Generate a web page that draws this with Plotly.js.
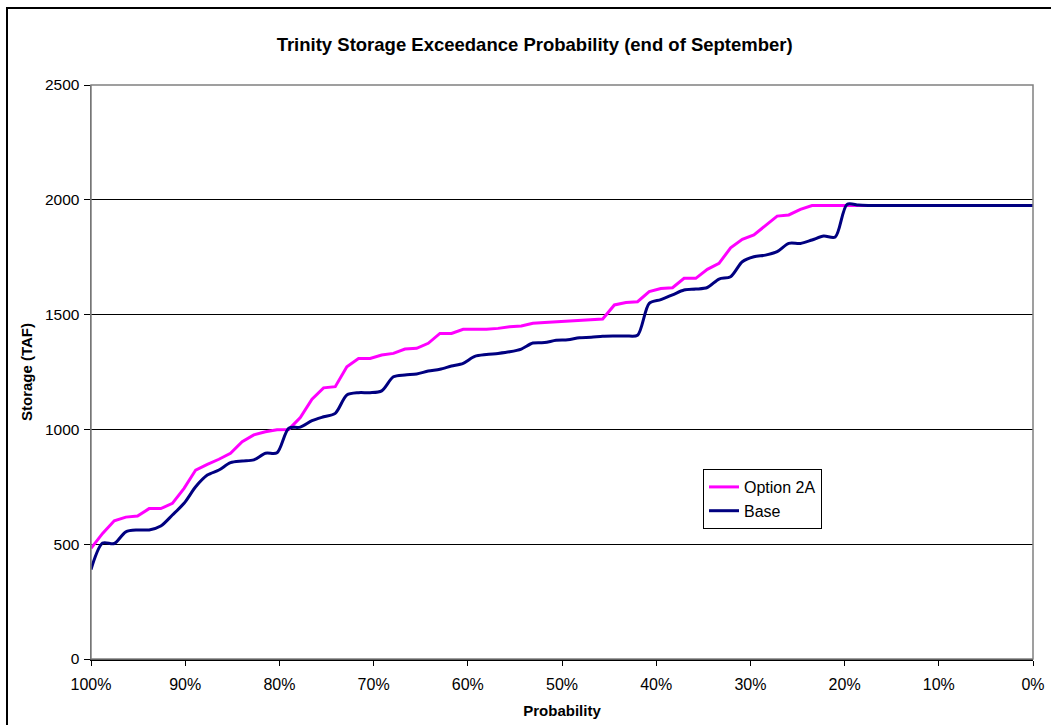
<!DOCTYPE html>
<html>
<head>
<meta charset="utf-8">
<script src="https://cdn.plot.ly/plotly-3.0.1.min.js"></script>
<style>
  html, body { margin: 0; padding: 0; background: #fff; }
  #wrap { position: relative; width: 1051px; height: 725px; overflow: hidden; }
  #chart { position: absolute; left: 0; top: 0; width: 1051px; height: 725px; }
  #frame { position: absolute; left: 6px; top: 7px; width: 1060px; height: 740px;
           border: 2px solid #000; pointer-events: none; }
</style>
</head>
<body>
<div id="wrap">
  <div id="chart"></div>
  <div id="frame"></div>
</div>
<script>
// Exceedance probability (%), 82 ranked years
const probability = [100, 98.77, 97.53, 96.30, 95.06, 93.83, 92.59, 91.36, 90.12, 88.89,
  87.65, 86.42, 85.19, 83.95, 82.72, 81.48, 80.25, 79.01, 77.78, 76.54,
  75.31, 74.07, 72.84, 71.60, 70.37, 69.14, 67.90, 66.67, 65.43, 64.20,
  62.96, 61.73, 60.49, 59.26, 58.02, 56.79, 55.56, 54.32, 53.09, 51.85,
  50.62, 49.38, 48.15, 46.91, 45.68, 44.44, 43.21, 41.98, 40.74, 39.51,
  38.27, 37.04, 35.80, 34.57, 33.33, 32.10, 30.86, 29.63, 28.40, 27.16,
  25.93, 24.69, 23.46, 22.22, 20.99, 19.75, 18.52, 17.28, 16.05, 14.81,
  13.58, 12.35, 11.11, 9.88, 8.64, 7.41, 6.17, 4.94, 3.70, 2.47, 1.23, 0];

// Storage (TAF) - Option 2A
const option2A = [482, 547, 602, 618, 623, 655, 655, 678, 743, 823,
  848, 870, 896, 946, 976, 990, 998, 1000, 1052, 1132,
  1181, 1186, 1273, 1309, 1309, 1324, 1331, 1350, 1353, 1375,
  1418, 1418, 1436, 1436, 1436, 1440, 1447, 1450, 1462, 1466,
  1469, 1472, 1473, 1479, 1481, 1542, 1553, 1556, 1600, 1614,
  1617, 1658, 1658, 1697, 1723, 1791, 1828, 1847, 1886, 1929,
  1934, 1958, 1975, 1975, 1975, 1975, 1975, 1975, 1975, 1975,
  1975, 1975, 1975, 1975, 1975, 1975, 1975, 1975, 1975, 1975, 1975, 1975];

// Storage (TAF) - Base
const base = [390, 505, 503, 554, 562, 562, 579, 627, 678, 750,
  801, 823, 855, 862, 867, 896, 898, 1005, 1010, 1038,
  1055, 1070, 1150, 1160, 1160, 1168, 1229, 1237, 1241, 1254,
  1262, 1276, 1288, 1318, 1326, 1331, 1338, 1350, 1376, 1378,
  1388, 1390, 1399, 1401, 1406, 1407, 1407, 1410, 1549, 1565,
  1586, 1607, 1611, 1618, 1655, 1665, 1730, 1752, 1759, 1774,
  1810, 1810, 1825, 1842, 1838, 1980, 1977, 1975, 1975, 1975,
  1975, 1975, 1975, 1975, 1975, 1975, 1975, 1975, 1975, 1975, 1975, 1975];

const xTickVals = [100, 90, 80, 70, 60, 50, 40, 30, 20, 10, 0];
const xTickText = ['100%', '90%', '80%', '70%', '60%', '50%', '40%', '30%', '20%', '10%', '0%'];
const yTickVals = [0, 500, 1000, 1500, 2000, 2500];

const FONT = 'Arial, "Liberation Sans", sans-serif';

const traces = [
  {
    x: probability, y: option2A, name: 'Option 2A', type: 'scatter', mode: 'lines',
    line: { color: '#FF00FF', width: 3 }
  },
  {
    x: probability, y: base, name: 'Base', type: 'scatter', mode: 'lines',
    line: { color: '#000080', width: 3, shape: 'spline', smoothing: 0.8 }
  }
];

const layout = {
  width: 1051, height: 725,
  margin: { l: 91, r: 18, t: 85, b: 66 },
  paper_bgcolor: '#ffffff', plot_bgcolor: '#ffffff',
  font: { family: FONT, size: 15, color: '#000' },
  showlegend: true,
  title: {
    text: '<b>Trinity Storage Exceedance Probability (end of September)</b>',
    font: { family: FONT, size: 18.5, color: '#000' },
    x: 0.471, xanchor: 'center', xref: 'paper',
    y: 1 - 45 / 725, yanchor: 'middle', yref: 'container'
  },
  xaxis: {
    range: [100, 0], autorange: false,
    tickvals: xTickVals, ticktext: xTickText,
    ticks: 'outside', ticklen: 5, tickcolor: '#000', tickwidth: 1,
    ticklabelstandoff: 5,
    showline: true, linecolor: '#000', linewidth: 1.5,
    showgrid: false, zeroline: false,
    tickfont: { family: FONT, size: 16, color: '#000' },
    title: { text: '<b>Probability</b>', font: { family: FONT, size: 15, color: '#000' }, standoff: 14 }
  },
  yaxis: {
    range: [0, 2500], autorange: false,
    tickvals: yTickVals,
    ticks: 'outside', ticklen: 6, tickcolor: '#000', tickwidth: 1,
    ticklabelstandoff: 1,
    showline: true, linecolor: '#555', linewidth: 1.5,
    showgrid: true, gridcolor: '#000', gridwidth: 1, zeroline: false,
    tickfont: { family: FONT, size: 15.5, color: '#000' },
    title: { text: '<b>Storage (TAF)</b>', font: { family: FONT, size: 15, color: '#000' }, standoff: 8 }
  },
  shapes: [
    { type: 'rect', xref: 'paper', yref: 'paper', x0: 0, x1: 1, y0: 0, y1: 1,
      line: { color: '#808080', width: 1.5 }, fillcolor: 'rgba(0,0,0,0)', layer: 'above' }
  ],
  legend: {
    x: 0.6497, y: 0.331, xanchor: 'left', yanchor: 'top',
    bgcolor: '#ffffff', bordercolor: '#000', borderwidth: 1,
    font: { family: FONT, size: 16, color: '#000' },
    tracegroupgap: 0, itemwidth: 30
  }
};

Plotly.newPlot('chart', traces, layout, { staticPlot: true, displayModeBar: false });
</script>
</body>
</html>
